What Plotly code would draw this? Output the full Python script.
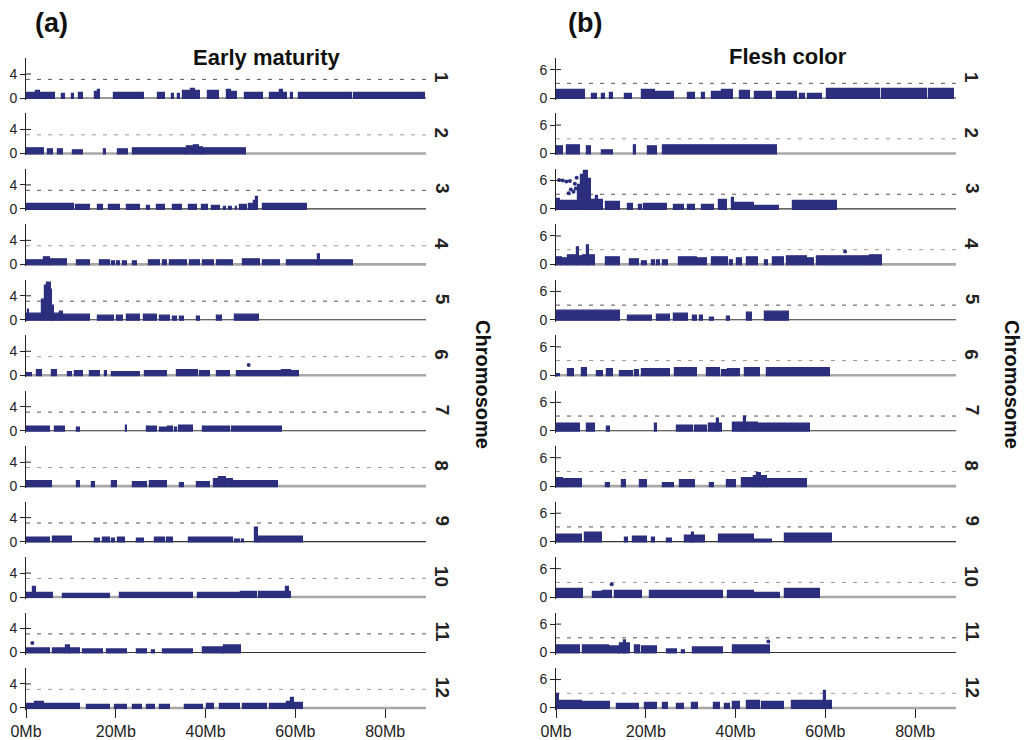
import plotly.graph_objects as go

W, H = 1030, 740
NAVY = "#2b2f7d"
INK = "#222222"
FONT = "Liberation Sans, Arial, sans-serif"

# ---------------------------------------------------------------------------
# Association scans. Each chromosome is a list of marker runs:
# (start Mb, end Mb, highest -log10(p) in the run)
# ---------------------------------------------------------------------------
EM_CHR01 = [(0.0, 2.2, 0.9), (2.2, 3.2, 1.2), (3.2, 6.5, 0.9), (8.0, 8.6, 0.6), (10.2, 10.8, 0.6),
            (11.7, 12.8, 0.8), (15.4, 16.0, 1.0), (16.0, 16.5, 1.4), (19.5, 26.2, 0.9), (29.5, 31.0, 0.8),
            (32.5, 33.0, 0.6), (33.8, 34.3, 0.6), (35.0, 36.8, 1.1), (36.8, 37.6, 1.5), (37.6, 38.8, 1.1),
            (40.6, 42.9, 1.2), (44.7, 45.6, 1.4), (45.6, 47.0, 1.0), (48.8, 52.9, 0.9), (54.4, 56.5, 0.9),
            (56.5, 57.2, 1.3), (57.2, 58.1, 0.9), (59.0, 59.4, 0.9), (60.7, 72.6, 0.9), (73.0, 88.9, 0.9)]
EM_CHR02 = [(0.1, 3.9, 0.8), (5.0, 6.1, 0.6), (7.2, 8.3, 0.7), (10.5, 12.8, 0.5), (17.4, 17.8, 0.7),
            (20.6, 22.8, 0.6), (23.9, 35.8, 0.8), (35.8, 37.5, 1.1), (37.5, 38.5, 1.3), (38.5, 39.5, 1.0),
            (39.5, 49.0, 0.8)]
EM_CHR03 = [(0.0, 10.6, 0.9), (11.1, 14.3, 0.7), (16.1, 17.2, 0.6), (18.4, 21.0, 0.7), (22.4, 25.4, 0.6),
            (26.9, 27.6, 0.5), (29.1, 31.0, 0.6), (32.8, 34.7, 0.6), (36.2, 38.0, 0.7), (39.1, 40.6, 0.7),
            (41.4, 43.2, 0.5), (44.0, 44.6, 0.3), (45.2, 45.8, 0.3), (46.7, 47.1, 0.3), (47.7, 49.2, 0.6),
            (49.6, 50.8, 0.9), (50.8, 51.3, 1.4), (51.3, 51.7, 2.0), (52.9, 62.5, 0.8)]
EM_CHR04 = [(0.0, 4.0, 0.7), (4.0, 5.3, 1.1), (5.3, 9.1, 0.8), (11.3, 14.3, 0.7), (16.5, 18.7, 0.6),
            (19.1, 19.8, 0.5), (20.2, 21.0, 0.5), (21.7, 22.5, 0.5), (23.9, 24.7, 0.5), (27.3, 29.9, 0.7),
            (30.6, 31.4, 0.6), (32.1, 35.8, 0.7), (36.6, 38.8, 0.7), (39.5, 41.8, 0.6), (42.5, 46.2, 0.6),
            (48.4, 52.1, 0.8), (52.9, 56.6, 0.7), (58.1, 65.0, 0.7), (65.0, 65.4, 1.7), (65.4, 72.8, 0.7)]
EM_CHR05 = [(0.0, 0.4, 1.0), (0.4, 0.7, 1.6), (0.7, 3.5, 1.0), (3.5, 4.2, 3.4), (4.2, 4.7, 5.6),
            (4.7, 5.5, 6.2), (5.5, 5.9, 5.0), (5.9, 6.2, 2.4), (6.2, 7.5, 1.0), (7.5, 8.3, 1.4),
            (8.3, 14.3, 0.9), (16.1, 19.5, 0.7), (20.2, 21.7, 0.6), (22.4, 25.4, 0.8), (26.2, 29.1, 0.8),
            (29.9, 32.1, 0.7), (32.8, 33.6, 0.5), (34.3, 35.1, 0.5), (38.0, 38.8, 0.5), (42.5, 43.6, 0.6),
            (46.6, 52.0, 0.8)]
EM_CHR06 = [(0.0, 1.3, 0.4), (2.4, 3.5, 0.9), (5.7, 6.8, 0.8), (9.4, 10.3, 0.5), (11.0, 12.8, 0.6),
            (14.3, 16.5, 0.7), (17.7, 18.1, 0.7), (19.1, 25.4, 0.5), (26.5, 31.4, 0.6), (33.6, 36.9, 0.8),
            (37.3, 38.4, 0.8), (38.8, 41.0, 0.7), (42.5, 45.5, 0.7), (47.0, 57.0, 0.7), (57.0, 59.0, 0.9),
            (59.0, 60.9, 0.7)]
EM_CHR07 = [(0.0, 5.3, 0.7), (6.5, 8.7, 0.7), (11.3, 12.0, 0.5), (22.2, 22.6, 0.8), (26.9, 29.1, 0.6),
            (29.9, 31.4, 0.5), (31.7, 32.8, 0.6), (33.2, 33.6, 0.5), (34.0, 37.3, 0.9), (39.5, 45.5, 0.7),
            (45.8, 57.0, 0.7)]
EM_CHR08 = [(0.0, 5.7, 0.8), (11.3, 12.0, 0.9), (14.6, 15.4, 0.6), (19.1, 20.2, 0.8), (23.9, 26.9, 0.6),
            (27.6, 31.4, 0.8), (34.3, 35.1, 0.5), (38.0, 41.0, 0.6), (41.8, 43.0, 1.1), (43.0, 44.5, 1.5),
            (44.5, 46.0, 1.1), (46.0, 56.2, 0.8)]
EM_CHR09 = [(0.0, 5.3, 0.7), (6.1, 10.2, 0.8), (15.4, 16.5, 0.5), (17.2, 18.7, 0.6), (19.1, 19.8, 0.5),
            (20.6, 22.1, 0.6), (24.7, 26.2, 0.5), (28.8, 31.0, 0.7), (31.4, 32.8, 0.6), (36.2, 46.2, 0.7),
            (46.6, 47.7, 0.3), (48.2, 48.6, 0.3), (51.1, 51.6, 2.4), (51.6, 61.8, 0.8)]
EM_CHR10 = [(0.0, 1.6, 0.7), (1.6, 2.2, 1.7), (2.2, 6.1, 0.7), (8.3, 18.7, 0.5), (20.9, 37.3, 0.6),
            (38.4, 47.7, 0.6), (48.0, 51.4, 0.8), (51.8, 58.0, 0.8), (58.0, 58.6, 1.6), (58.6, 59.0, 0.8)]
EM_CHR11 = [(0.0, 5.3, 0.6), (6.1, 9.0, 0.6), (9.0, 9.8, 1.1), (9.8, 12.0, 0.6), (12.8, 17.2, 0.5),
            (18.0, 22.4, 0.5), (24.7, 26.9, 0.5), (28.0, 28.8, 0.4), (30.6, 37.3, 0.5), (39.5, 44.0, 0.8),
            (44.0, 47.9, 1.1)]
EM_CHR12 = [(0.0, 2.0, 0.7), (2.0, 4.0, 1.0), (4.0, 12.0, 0.7), (13.5, 18.7, 0.5), (19.8, 22.4, 0.5),
            (23.9, 25.8, 0.5), (26.9, 28.8, 0.5), (29.9, 32.1, 0.5), (35.4, 39.5, 0.5), (40.3, 41.8, 0.6),
            (43.2, 47.7, 0.6), (48.4, 53.6, 0.6), (54.4, 58.1, 0.7), (58.1, 59.0, 1.0), (59.0, 59.6, 1.6),
            (59.6, 61.8, 0.9)]

# isolated markers standing above their runs
EM_DOT_CHR = [6, 11]
EM_DOT_MB = [49.6, 1.4]
EM_DOT_LOGP = [1.7, 1.6]

FC_CHR01 = [(0.0, 6.5, 1.7), (8.1, 9.1, 0.8), (10.2, 10.9, 0.8), (12.0, 12.8, 1.0), (15.4, 16.9, 0.9),
            (19.1, 22.0, 1.6), (22.0, 26.2, 1.2), (29.5, 31.0, 1.0), (32.5, 33.2, 1.0), (34.7, 37.0, 1.3),
            (37.0, 39.5, 1.6), (41.0, 43.2, 1.4), (44.3, 48.1, 1.3), (49.2, 53.6, 1.3), (54.4, 55.5, 0.8),
            (56.2, 59.2, 0.9), (60.3, 72.2, 1.8), (72.6, 82.6, 1.9), (83.0, 88.6, 2.0)]
FC_CHR02 = [(0.0, 1.6, 1.5), (2.4, 5.3, 1.6), (6.8, 7.9, 1.5), (10.2, 12.8, 0.6), (17.4, 17.8, 1.6),
            (20.6, 22.4, 1.5), (23.9, 49.2, 1.7)]
FC_CHR03 = [(0.0, 0.9, 2.1), (0.9, 5.0, 1.7), (5.0, 5.6, 5.0), (5.6, 6.2, 7.2), (6.2, 7.2, 8.0),
            (7.2, 7.9, 6.4), (7.9, 9.0, 2.0), (9.0, 9.4, 2.8), (9.4, 10.5, 2.0), (11.1, 14.3, 1.5),
            (16.1, 17.2, 1.0), (18.4, 19.1, 0.8), (19.5, 24.7, 1.0), (26.2, 28.4, 0.8), (29.5, 31.0, 0.9),
            (32.5, 35.1, 0.8), (36.2, 38.0, 1.8), (39.2, 39.7, 2.3), (39.7, 44.0, 1.3), (44.0, 49.6, 0.6),
            (52.9, 62.6, 1.7)]
FC_CHR04 = [(0.0, 1.3, 1.4), (1.3, 2.7, 1.2), (2.7, 4.6, 1.9), (4.6, 5.1, 3.7), (5.1, 5.7, 1.6),
            (6.1, 6.9, 2.0), (6.9, 7.4, 4.1), (7.4, 8.7, 2.0), (11.1, 14.3, 1.5), (16.5, 18.4, 1.0),
            (19.1, 20.2, 0.7), (21.3, 22.1, 0.8), (22.4, 23.2, 0.9), (23.9, 25.0, 0.8), (27.3, 31.3, 1.5),
            (31.7, 33.6, 1.3), (34.7, 38.4, 1.5), (38.8, 39.5, 0.9), (40.3, 41.4, 1.2), (42.5, 45.1, 1.4),
            (46.6, 47.3, 0.8), (48.4, 50.7, 1.5), (51.4, 55.9, 1.6), (56.2, 57.4, 1.2), (58.1, 70.0, 1.6),
            (70.0, 72.6, 2.0)]
FC_CHR05 = [(0.0, 14.3, 1.8), (16.1, 21.3, 0.8), (22.4, 25.4, 1.1), (26.2, 29.5, 1.3), (30.6, 31.4, 0.8),
            (32.1, 32.8, 0.9), (34.3, 35.1, 0.5), (38.0, 38.8, 0.6), (42.5, 43.6, 1.4), (46.6, 51.8, 1.7)]
FC_CHR06 = [(0.0, 0.9, 0.3), (2.7, 3.9, 1.3), (5.7, 6.8, 1.5), (9.2, 10.5, 0.9), (11.3, 12.8, 1.2),
            (14.3, 17.2, 0.8), (17.6, 18.4, 1.0), (19.1, 25.4, 1.3), (26.5, 31.4, 1.5), (33.6, 36.6, 1.4),
            (36.9, 38.0, 1.0), (38.4, 41.0, 1.3), (42.1, 45.5, 1.4), (47.0, 61.1, 1.5)]
FC_CHR07 = [(0.0, 5.3, 1.5), (6.8, 8.7, 1.4), (11.3, 12.0, 0.8), (22.0, 22.5, 1.5), (26.9, 30.6, 1.1),
            (31.0, 33.6, 1.1), (34.0, 35.9, 1.4), (35.9, 36.4, 2.5), (36.4, 36.9, 1.4), (39.5, 41.9, 1.6),
            (41.9, 42.3, 3.0), (42.3, 45.1, 1.6), (45.1, 56.6, 1.5)]
FC_CHR08 = [(0.0, 1.6, 1.7), (1.6, 5.7, 1.5), (11.1, 12.0, 0.6), (14.6, 15.6, 1.3), (18.7, 20.2, 1.3),
            (23.9, 26.2, 0.6), (27.6, 31.0, 1.2), (34.3, 35.1, 0.6), (38.0, 40.2, 1.3), (41.4, 44.0, 1.6),
            (44.0, 44.8, 2.1), (44.8, 45.6, 2.7), (45.6, 46.9, 2.1), (46.9, 55.9, 1.5)]
FC_CHR09 = [(0.0, 5.7, 1.5), (6.5, 10.2, 1.8), (15.4, 16.1, 0.8), (17.2, 20.2, 1.0), (21.3, 22.1, 0.8),
            (24.7, 25.8, 0.6), (28.8, 30.3, 1.3), (30.3, 30.8, 2.0), (30.8, 33.2, 1.3), (36.2, 44.0, 1.5),
            (44.3, 48.1, 0.5), (51.0, 61.4, 1.6)]
FC_CHR10 = [(0.0, 6.1, 1.6), (8.3, 10.5, 1.0), (10.5, 12.4, 1.3), (13.1, 19.1, 1.2), (21.0, 29.1, 1.2),
            (29.5, 37.3, 1.3), (38.4, 44.0, 1.2), (44.0, 49.9, 0.9), (51.0, 58.8, 1.6)]
FC_CHR11 = [(0.0, 5.3, 1.5), (6.1, 11.7, 1.5), (12.0, 14.3, 1.2), (14.3, 15.1, 1.8), (15.1, 15.6, 2.6),
            (15.6, 16.5, 1.8), (17.6, 18.7, 1.5), (19.1, 22.4, 1.3), (24.7, 26.9, 0.6), (28.0, 28.8, 0.5),
            (30.6, 37.3, 1.1), (39.5, 47.7, 1.5)]
FC_CHR12 = [(0.0, 0.6, 3.0), (0.6, 5.7, 1.5), (6.1, 12.0, 1.3), (13.5, 18.4, 0.9), (19.8, 22.4, 1.1),
            (23.9, 25.0, 1.0), (26.9, 28.4, 0.9), (30.2, 31.7, 1.0), (35.1, 36.6, 1.1), (37.7, 38.8, 0.9),
            (39.5, 41.0, 1.2), (42.5, 45.5, 1.4), (45.8, 50.7, 1.3), (52.5, 55.9, 1.5), (56.2, 59.7, 1.5),
            (59.7, 60.2, 3.7), (60.2, 61.4, 1.5)]

FC_DOT_CHR = [3, 3, 3, 3, 3, 3, 3, 3, 3, 3, 4, 10, 11]
FC_DOT_MB = [0.7, 1.5, 2.3, 3.1, 3.3, 3.9, 4.4, 2.8, 4.6, 4.2, 64.4, 12.4, 47.3]
FC_DOT_LOGP = [6.1, 6.0, 5.8, 5.9, 4.1, 3.6, 4.3, 3.3, 6.6, 5.3, 2.7, 2.7, 2.3]

CHROMOSOMES = list(range(1, 13))
X_TICKS = [0, 20, 40, 60, 80]
X_TICK_TEXT = ["0Mb", "20Mb", "40Mb", "60Mb", "80Mb"]
THRESHOLD = 3.1

EM_BLOCKS = [EM_CHR01, EM_CHR02, EM_CHR03, EM_CHR04, EM_CHR05, EM_CHR06,
             EM_CHR07, EM_CHR08, EM_CHR09, EM_CHR10, EM_CHR11, EM_CHR12]
FC_BLOCKS = [FC_CHR01, FC_CHR02, FC_CHR03, FC_CHR04, FC_CHR05, FC_CHR06,
             FC_CHR07, FC_CHR08, FC_CHR09, FC_CHR10, FC_CHR11, FC_CHR12]

# ---------------------------------------------------------------------------
# panel geometry (pixels of the 1030 x 740 page)
# ---------------------------------------------------------------------------
PANELS = [
    dict(title="Early maturity", tag="(a)", blocks=EM_BLOCKS,
         dots=(EM_DOT_CHR, EM_DOT_MB, EM_DOT_LOGP),
         px0=26, px1=426, ppu=6.0, ytop=4, title_xy=(266, 58), tag_xy=(51, 23), side_x=483),
    dict(title="Flesh color", tag="(b)", blocks=FC_BLOCKS,
         dots=(FC_DOT_CHR, FC_DOT_MB, FC_DOT_LOGP),
         px0=556, px1=956, ppu=4.73, ytop=6, title_xy=(788, 57), tag_xy=(585, 23), side_x=1012),
]
X_MAX = 89.1
ROW0, ROW_STEP = 98.0, 55.45     # baseline of chromosome 1 and row pitch
ABOVE, BELOW = 40.0, 2.0          # axis extent above / below the baseline


def py(px):
    return 1 - px / H


def px_x(px):
    return px / W


def label(text, x, y, size, angle=0, color="#111111"):
    return dict(text=text, x=px_x(x), y=py(y), xref="paper", yref="paper", showarrow=False,
                xanchor="center", yanchor="middle", textangle=angle,
                font=dict(family=FONT, size=size, color=color))


fig = go.Figure()
layout_axes = {}
shapes = []
annotations = []

for p, panel in enumerate(PANELS):
    ppu = panel["ppu"]
    base = -1.3 / ppu
    for r, chrom in enumerate(CHROMOSOMES):
        k = p * 12 + r + 1
        suffix = "" if k == 1 else str(k)
        xa, ya = "x" + suffix, "y" + suffix
        baseline = ROW0 + ROW_STEP * r
        even = chrom % 2 == 0

        runs = panel["blocks"][r]
        fig.add_trace(go.Bar(
            x=[(s + e) / 2 for s, e, _ in runs],
            y=[t - base for _, _, t in runs],
            width=[e - s for s, e, _ in runs],
            base=base,
            marker=dict(color=NAVY, line=dict(color=NAVY, width=1.2)),
            xaxis=xa, yaxis=ya, showlegend=False, hoverinfo="skip",
        ))
        dchr, dmb, dlp = panel["dots"]
        sel = [i for i, c in enumerate(dchr) if c == chrom]
        if sel:
            fig.add_trace(go.Scatter(
                x=[dmb[i] for i in sel], y=[dlp[i] for i in sel], mode="markers",
                marker=dict(color=NAVY, size=4, line=dict(width=0)),
                xaxis=xa, yaxis=ya, showlegend=False, hoverinfo="skip", cliponaxis=False,
            ))

        bottom = r == len(CHROMOSOMES) - 1
        xdef = dict(domain=[px_x(panel["px0"]), px_x(panel["px1"])], range=[0, X_MAX],
                    showgrid=False, zeroline=False, showline=False, fixedrange=True,
                    automargin=False)
        if bottom:
            xdef.update(anchor="free", position=py(baseline), ticks="outside", ticklen=9,
                        tickwidth=1.2, tickcolor=INK, tickvals=X_TICKS, ticktext=X_TICK_TEXT,
                        tickfont=dict(family=FONT, size=16, color=INK))
        else:
            xdef.update(anchor=ya, showticklabels=False, ticks="")
        layout_axes["xaxis" + suffix] = xdef
        layout_axes["yaxis" + suffix] = dict(
            domain=[py(baseline + BELOW), py(baseline - ABOVE)],
            range=[-BELOW / ppu, ABOVE / ppu], anchor=xa, automargin=False,
            showgrid=False, zeroline=False, showline=True, linecolor=INK, linewidth=1,
            ticks="outside", ticklen=5, tickwidth=1, tickcolor=INK,
            tickvals=[0, panel["ytop"]], tickfont=dict(family=FONT, size=14, color=INK),
            fixedrange=True,
        )

        # chromosome baseline, significance threshold, inner half of the top tick
        shapes.append(dict(type="line", xref=f"{xa} domain", yref=ya, x0=0, x1=1, y0=0, y1=0,
                           layer="below",
                           line=dict(color="#a8a8a8" if even else "#333333", width=2.6 if even else 1.1)))
        shapes.append(dict(type="line", xref=f"{xa} domain", yref=ya, x0=0, x1=1,
                           y0=THRESHOLD, y1=THRESHOLD, layer="below",
                           line=dict(color="#9a9a9a" if even else "#555555", width=1, dash="4px,7px")))
        shapes.append(dict(type="line", xref=f"{xa} domain", yref=ya, x0=0, x1=5 / 400,
                           y0=panel["ytop"], y1=panel["ytop"], line=dict(color=INK, width=1)))

        annotations.append(label(f"<b>{chrom}</b>", panel["px1"] + 16, baseline - 21, 19, 90, INK))

    annotations.append(label(f"<b>{panel['title']}</b>", *panel["title_xy"], 22))
    annotations.append(label(f"<b>{panel['tag']}</b>", *panel["tag_xy"], 27))
    annotations.append(label("<b>Chromosome</b>", panel["side_x"], 384, 20, 90))

fig.update_layout(
    width=W, height=H, margin=dict(l=0, r=0, t=0, b=0, autoexpand=False), autosize=False,
    paper_bgcolor="white", plot_bgcolor="white", barmode="overlay", bargap=0,
    showlegend=False, shapes=shapes, annotations=annotations,
    **layout_axes,
)

fig.write_html("out.html")
